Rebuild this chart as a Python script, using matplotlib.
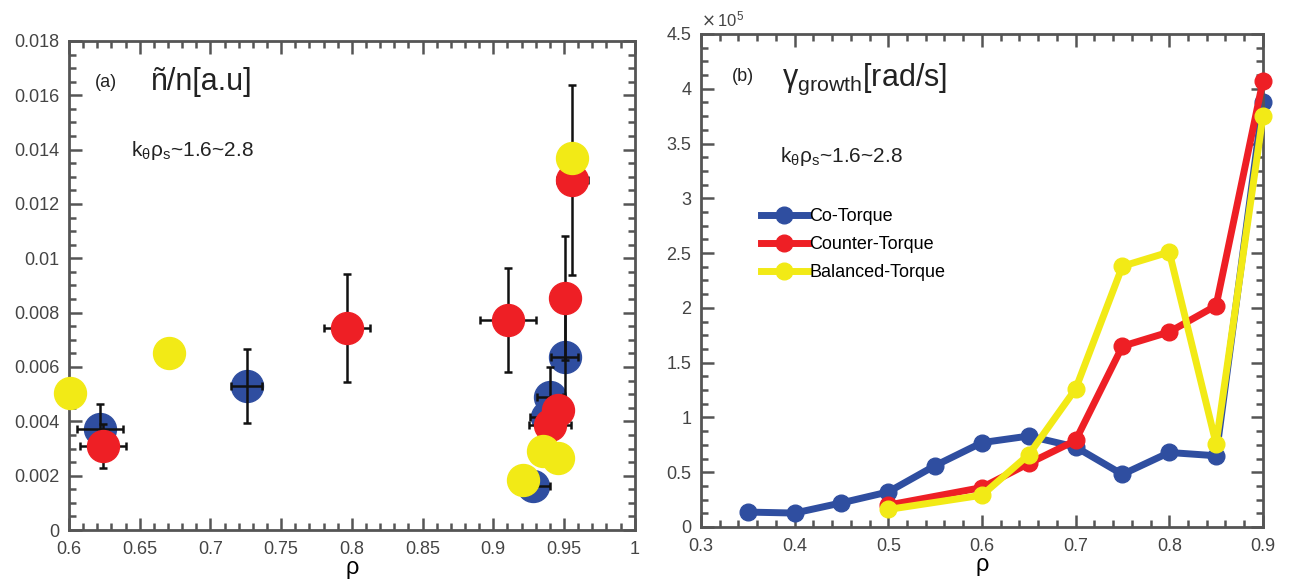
import numpy as np
import matplotlib
matplotlib.use('Agg')
import matplotlib.pyplot as plt
from matplotlib.ticker import MultipleLocator, FuncFormatter

plt.rcParams['font.family'] = ['Liberation Sans Narrow', 'Liberation Sans', 'DejaVu Sans']
plt.rcParams['mathtext.fontset'] = 'dejavusans'

BLUE = '#2f4ea0'
RED = '#ee1f25'
YELLOW = '#f2ea16'
GRAY = '#555555'

# (a) fluctuation amplitude, points with error bars
co_rho = [0.622, 0.7258, 0.9505, 0.940, 0.9378, 0.928]
co_amp = [0.00372, 0.0053, 0.00637, 0.0049, 0.00416, 0.00162]
co_xerr = [0.016, 0.011, 0.0095, 0.009, 0.012, 0.012]
co_yerr = [0.0009, 0.00135, 0.0019, 0.0011, 0.0, 0.0]

ctr_rho = [0.624, 0.7965, 0.9103, 0.9505, 0.956, 0.9456, 0.940]
ctr_amp = [0.0031, 0.00744, 0.00773, 0.00854, 0.01289, 0.0044, 0.00387]
ctr_xerr = [0.0165, 0.016, 0.020, 0.0, 0.011, 0.010, 0.015]
ctr_yerr = [0.0008, 0.002, 0.0019, 0.0023, 0.0035, 0.0, 0.0]

bal_rho = [0.601, 0.6707, 0.956, 0.935, 0.9456, 0.9208]
bal_amp = [0.00505, 0.0065, 0.0137, 0.0029, 0.00265, 0.00184]

# (b) growth rate, units of 1e5 rad/s
co_x = [0.35, 0.4, 0.45, 0.5, 0.55, 0.6, 0.65, 0.7, 0.75, 0.8, 0.85, 0.9]
co_g = [0.136, 0.127, 0.22, 0.32, 0.56, 0.77, 0.83, 0.73, 0.48, 0.68, 0.65, 3.88]
ctr_x = [0.5, 0.6, 0.65, 0.7, 0.75, 0.8, 0.85, 0.9]
ctr_g = [0.20, 0.36, 0.58, 0.79, 1.65, 1.78, 2.02, 4.07]
bal_x = [0.5, 0.6, 0.65, 0.7, 0.75, 0.8, 0.85, 0.9]
bal_g = [0.16, 0.29, 0.66, 1.26, 2.38, 2.51, 0.76, 3.75]

fig = plt.figure(figsize=(12.9, 5.83), dpi=100)
ax1 = fig.add_axes([0.0535, 0.0909, 0.4385, 0.8388])
ax2 = fig.add_axes([0.5434, 0.0961, 0.4356, 0.8456])

fmt = FuncFormatter(lambda v, p: '%g' % round(v, 6))

def style(ax):
    for s in ax.spines.values():
        s.set_color(GRAY)
        s.set_linewidth(2)
    ax.tick_params(which='both', direction='in', top=True, right=True,
                   colors=GRAY, labelcolor='#444444', labelsize=13, width=1.8)
    ax.tick_params(which='major', length=9)
    ax.tick_params(which='minor', length=5)
    ax.tick_params(axis='x', pad=8)
    ax.tick_params(axis='y', pad=7)
    ax.xaxis.set_major_formatter(fmt)
    ax.yaxis.set_major_formatter(fmt)

# left panel
ax1.plot(co_rho, co_amp, 'o', color=BLUE, ms=23, zorder=2, clip_on=False)
ax1.errorbar(co_rho, co_amp, xerr=co_xerr, yerr=co_yerr, fmt='none', ecolor='#111111',
             elinewidth=1.8, capsize=3, capthick=1.8, zorder=3)
ax1.errorbar(ctr_rho, ctr_amp, xerr=ctr_xerr, yerr=ctr_yerr, fmt='none', ecolor='#111111',
             elinewidth=1.8, capsize=3, capthick=1.8, zorder=3)
ax1.plot(ctr_rho, ctr_amp, 'o', color=RED, ms=23, zorder=4, clip_on=False)
ax1.plot(bal_rho, bal_amp, 'o', color=YELLOW, ms=23, zorder=5, clip_on=False)

ax1.set_xlim(0.6, 1)
ax1.set_ylim(0, 0.018)
ax1.xaxis.set_major_locator(MultipleLocator(0.05))
ax1.xaxis.set_minor_locator(MultipleLocator(0.01))
ax1.yaxis.set_major_locator(MultipleLocator(0.002))
ax1.yaxis.set_minor_locator(MultipleLocator(0.0005))
style(ax1)
ax1.set_xlabel('ρ', fontsize=17, labelpad=-1)

ax1.text(0.045, 0.905, '(a)', transform=ax1.transAxes, fontsize=13, color='#222222')
ax1.text(0.145, 0.9, 'ñ/n[a.u]', transform=ax1.transAxes, fontsize=22, color='#222222')
ax1.text(0.11, 0.765, r'$\mathregular{k_\theta\rho_s}$~1.6~2.8', transform=ax1.transAxes,
         fontsize=15, color='#222222')

# right panel
ax2.plot(co_x, co_g, '-o', color=BLUE, lw=5, ms=12, label='Co-Torque', zorder=2, clip_on=False)
ax2.plot(ctr_x, ctr_g, '-o', color=RED, lw=5, ms=12, label='Counter-Torque', zorder=3, clip_on=False)
ax2.plot(bal_x, bal_g, '-o', color=YELLOW, lw=5, ms=12, label='Balanced-Torque', zorder=4, clip_on=False)

ax2.set_xlim(0.3, 0.9)
ax2.set_ylim(0, 4.5)
ax2.xaxis.set_major_locator(MultipleLocator(0.1))
ax2.xaxis.set_minor_locator(MultipleLocator(0.02))
ax2.yaxis.set_major_locator(MultipleLocator(0.5))
ax2.yaxis.set_minor_locator(MultipleLocator(0.125))
style(ax2)
ax2.set_xlabel('ρ', fontsize=17, labelpad=-1)

ax2.text(0.0, 1.015, r'$\times\,\mathregular{10^5}$', transform=ax2.transAxes,
         fontsize=12, color='#444444')
ax2.text(0.055, 0.905, '(b)', transform=ax2.transAxes, fontsize=13, color='#222222')
ax2.text(0.145, 0.895, r'$\mathregular{\gamma_{growth}}$[rad/s]', transform=ax2.transAxes,
         fontsize=22, color='#222222')
ax2.text(0.14, 0.74, r'$\mathregular{k_\theta\rho_s}$~1.6~2.8', transform=ax2.transAxes,
         fontsize=15, color='#222222')

ax2.legend(loc='upper left', bbox_to_anchor=(0.09, 0.665), frameon=False, fontsize=13,
           handlelength=2.6, handletextpad=0.1, labelspacing=0.6, borderpad=0)

fig.savefig('out.png', dpi=100)
